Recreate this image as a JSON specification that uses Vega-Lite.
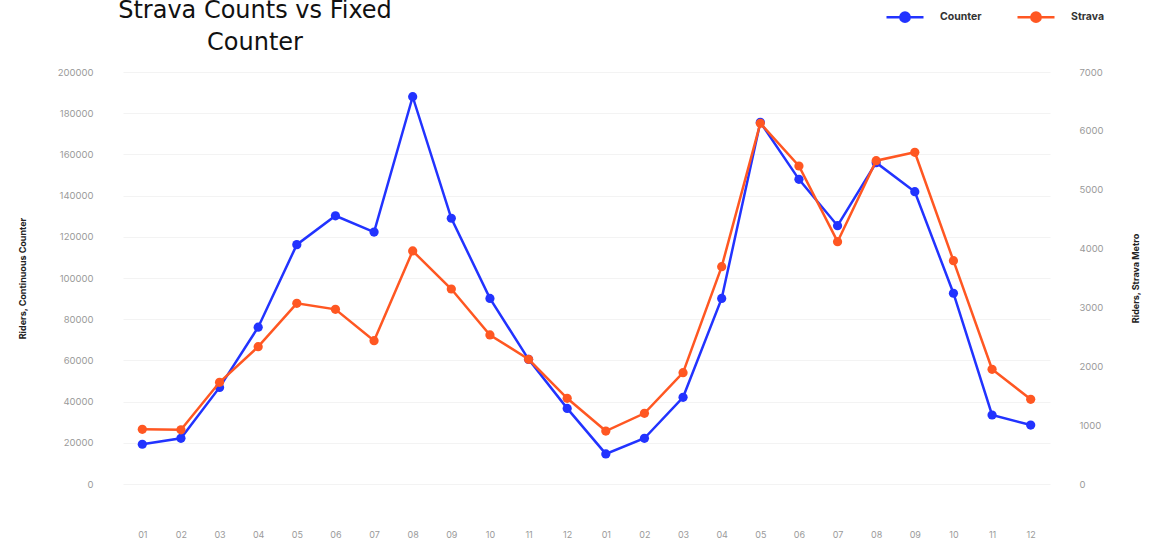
{
  "$schema": "https://vega.github.io/schema/vega-lite/v6.json",
  "autosize": {"type": "none"},
  "padding": {"left": 123, "top": 72, "right": 113, "bottom": 62},
  "width": 927,
  "height": 412,
  "background": "white",
  "title": {
    "text": ["Strava Counts vs Fixed", "Counter"],
    "anchor": "start",
    "frame": "group",
    "align": "center",
    "dx": 132,
    "offset": -58,
    "font": "DejaVu Sans",
    "fontSize": 24,
    "fontWeight": "normal",
    "color": "#111111",
    "lineHeight": 32
  },
  "config": {
    "view": {"stroke": null},
    "font": "Inter"
  },
  "data": {
    "values": [
      {"period": "2018-01", "counter": 19300, "strava": 929},
      {"period": "2018-02", "counter": 22200, "strava": 920},
      {"period": "2018-03", "counter": 46900, "strava": 1728},
      {"period": "2018-04", "counter": 76100, "strava": 2333},
      {"period": "2018-05", "counter": 116200, "strava": 3070},
      {"period": "2018-06", "counter": 130200, "strava": 2968},
      {"period": "2018-07", "counter": 122300, "strava": 2435},
      {"period": "2018-08", "counter": 188000, "strava": 3959},
      {"period": "2018-09", "counter": 129000, "strava": 3313},
      {"period": "2018-10", "counter": 90100, "strava": 2532},
      {"period": "2018-11", "counter": 60500, "strava": 2119},
      {"period": "2018-12", "counter": 36700, "strava": 1456},
      {"period": "2019-01", "counter": 14600, "strava": 900},
      {"period": "2019-02", "counter": 22200, "strava": 1201},
      {"period": "2019-03", "counter": 42100, "strava": 1891},
      {"period": "2019-04", "counter": 90100, "strava": 3692},
      {"period": "2019-05", "counter": 175600, "strava": 6128},
      {"period": "2019-06", "counter": 147900, "strava": 5403},
      {"period": "2019-07", "counter": 125400, "strava": 4117},
      {"period": "2019-08", "counter": 156000, "strava": 5493},
      {"period": "2019-09", "counter": 141900, "strava": 5636},
      {"period": "2019-10", "counter": 92600, "strava": 3794},
      {"period": "2019-11", "counter": 33500, "strava": 1949},
      {"period": "2019-12", "counter": 28600, "strava": 1439}
    ]
  },
  "encoding": {
    "x": {
      "field": "period",
      "type": "ordinal",
      "scale": {"type": "point", "padding": 0.5},
      "axis": {
        "title": null,
        "labelExpr": "substring(datum.label, 5)",
        "labelAngle": 0,
        "labelFontSize": 9,
        "labelColor": "#9a9a9a",
        "labelPadding": 46,
        "ticks": false,
        "domain": false,
        "grid": false
      }
    }
  },
  "layer": [
    {
      "mark": {"type": "line", "strokeWidth": 2.5, "point": {"filled": true, "size": 85}},
      "encoding": {
        "y": {
          "field": "counter",
          "type": "quantitative",
          "scale": {"domain": [0, 200000], "nice": false},
          "axis": {
            "title": "Riders, Continuous Counter",
            "titleFontSize": 9,
            "titleFontWeight": "bold",
            "titleColor": "#222222",
            "titlePadding": 30,
            "values": [0, 20000, 40000, 60000, 80000, 100000, 120000, 140000, 160000, 180000, 200000],
            "format": "d",
            "labelFontSize": 9.5,
            "labelColor": "#9a9a9a",
            "labelPadding": 30,
            "ticks": false,
            "domain": false,
            "grid": true,
            "gridColor": "#f3f3f3",
            "gridWidth": 1
          }
        },
        "color": {
          "datum": "Counter",
          "type": "nominal",
          "scale": {"domain": ["Counter", "Strava"], "range": ["#2233ff", "#ff5722"]},
          "legend": {
            "title": null,
            "orient": "none",
            "direction": "horizontal",
            "legendX": 762,
            "legendY": -75,
            "symbolType": "M-1,0L1,0M0.25,0A0.25,0.25,0,1,1,-0.25,0A0.25,0.25,0,1,1,0.25,0Z",
            "symbolSize": 1369,
            "symbolStrokeWidth": 2.5,
            "labelFontSize": 10.5,
            "labelFontWeight": "bold",
            "labelColor": "#333333",
            "labelOffset": 15,
            "columnPadding": 30,
            "encode": {
              "symbols": {"update": {"fill": {"scale": "color", "field": "value"}, "fillOpacity": {"value": 1}}}
            }
          }
        }
      }
    },
    {
      "mark": {"type": "line", "strokeWidth": 2.5, "point": {"filled": true, "size": 85}},
      "encoding": {
        "y": {
          "field": "strava",
          "type": "quantitative",
          "scale": {"domain": [0, 7000], "nice": false},
          "axis": {
            "title": "Riders, Strava Metro",
            "orient": "right",
            "titleAngle": -90,
            "titleFontSize": 9,
            "titleFontWeight": "bold",
            "titleColor": "#222222",
            "titlePadding": 37,
            "values": [0, 1000, 2000, 3000, 4000, 5000, 6000, 7000],
            "format": "d",
            "labelFontSize": 9.5,
            "labelColor": "#9a9a9a",
            "labelPadding": 29,
            "ticks": false,
            "domain": false,
            "grid": false
          }
        },
        "color": {"datum": "Strava", "type": "nominal"}
      }
    }
  ],
  "resolve": {"scale": {"y": "independent"}}
}
